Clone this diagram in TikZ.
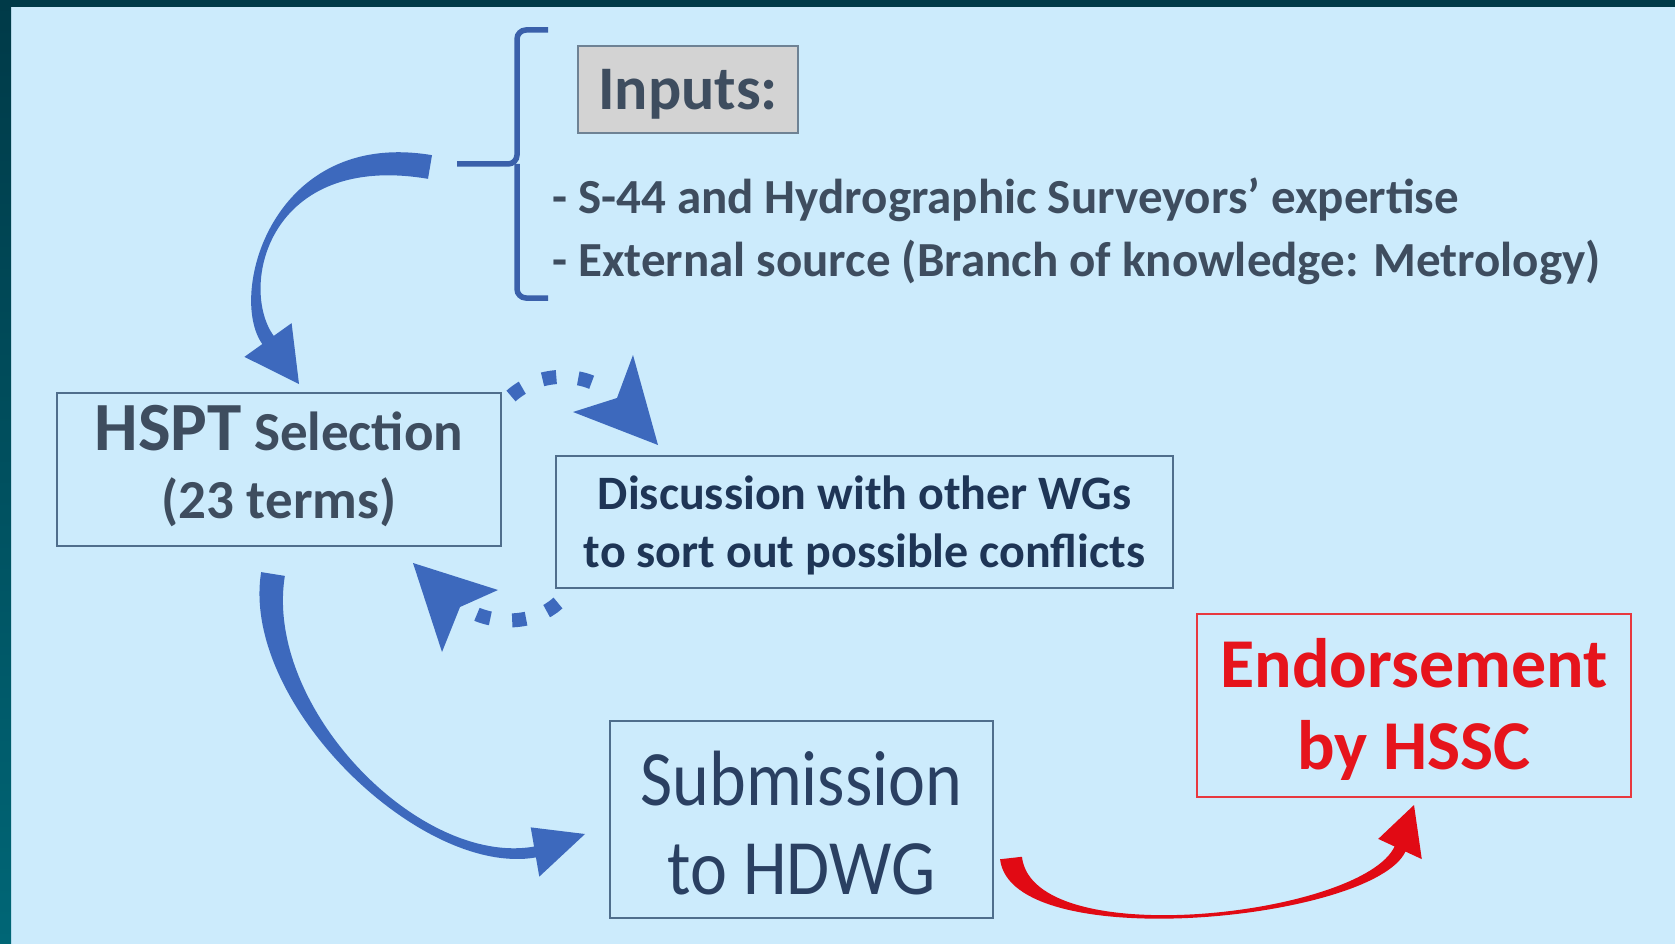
\documentclass[tikz,border=0pt]{standalone}
\usepackage{fontspec}
\setmainfont{Carlito}
\usetikzlibrary{calc}
\definecolor{bgblue}{HTML}{CCEBFC}
\definecolor{frametop}{HTML}{003A48}
\definecolor{framebot}{HTML}{006676}
\definecolor{textgrey}{HTML}{3E4D5F}
\definecolor{textnavy}{HTML}{1E3556}
\definecolor{textsub}{HTML}{2A4062}
\definecolor{boxborder}{HTML}{4F6E8C}
\definecolor{inputgray}{HTML}{D3D3D3}
\definecolor{inputborder}{HTML}{6E8294}
\definecolor{bracketblue}{HTML}{3A60AA}
\definecolor{arrowblue}{HTML}{3D69BD}
\definecolor{arrowred}{HTML}{E10A14}
\definecolor{redtext}{HTML}{E6141C}
\definecolor{redborder}{HTML}{E8383F}
% #1 colour, #2 tail, #3 control 1, #4 control 2, #5 head base, #6 tip,
% #7 half width at tail, #8 half width at head base, #9 half width of head
\newcommand{\taperarrow}[9]{%
  \fill[#1] ($(#2)!#7!90:(#3)$)
     .. controls ($(#3)!#7!-90:(#2)$) and ($(#4)!#8!90:(#5)$) .. ($(#5)!#8!-90:(#4)$)
     -- ($(#5)!#9!-90:(#4)$) -- (#6) -- ($(#5)!#9!90:(#4)$) -- ($(#5)!#8!90:(#4)$)
     .. controls ($(#4)!#8!-90:(#5)$) and ($(#3)!#7!90:(#2)$) .. ($(#2)!#7!-90:(#3)$) -- cycle;}
\begin{document}
\begin{tikzpicture}[x=1pt,y=-1pt,
  box/.style={draw=boxborder, line width=1.5pt, inner sep=0pt, align=center},
  inbox/.style={draw=inputborder, fill=inputgray, line width=1.5pt, inner sep=0pt,
    minimum width=220pt, minimum height=87pt, text=textgrey,
    font=\bfseries\fontsize{62}{70}\selectfont, text height=45pt, text depth=4pt},
  listtext/.style={inner sep=0pt, text=textgrey, font=\bfseries\fontsize{49}{55}\selectfont},
  dotline/.style={draw=arrowblue, line width=14pt, dash pattern=on 14pt off 22pt},
  bracket/.style={draw=bracketblue, line width=5.5pt, rounded corners=9pt}]
\useasboundingbox (0,0) rectangle (1675,944);
\fill[bgblue] (0,0) rectangle (1675,944);
\shade[top color=frametop, bottom color=framebot] (0,0) rectangle (11,944);
\fill[frametop] (0,0) rectangle (1675,7);

% inputs
\node[inbox] (inputs) at (688,89.5) {Inputs:};
\node[listtext, anchor=base west] (l1) at (552,214) {- S-44 and Hydrographic Surveyors’ expertise};
\node[listtext, anchor=base west] (l2) at (552,276) {- External source (Branch of knowledge: Metrology)};
\coordinate (brtick) at (457,164);
\draw[bracket] (548,30) -- (517,30) -- (517,164) -- (brtick);
\draw[bracket] (548,298) -- (517,298) -- (517,164);

% boxes
\node[box, minimum width=444pt, minimum height=153pt, text=textgrey,
  font=\bfseries\fontsize{55}{68}\selectfont, text height=110pt, text depth=13pt]
  (hspt) at (279,469.5) {{\fontsize{69}{68}\selectfont HSPT} Selection\\(23 terms)};
\node[box, minimum width=617pt, minimum height=132pt, text=textnavy,
  font=\bfseries\fontsize{48}{58}\selectfont, text height=100pt, text depth=10pt]
  (disc) at (864.5,522) {Discussion with other WGs\\to sort out possible conflicts};
\node[box, minimum width=383pt, minimum height=197pt, text=textsub,
  font=\fontsize{70}{89}\selectfont, text height=160pt, text depth=11pt]
  (sub) at (801.5,819.5) {\scalebox{1}[1.12]{Submission}\\\scalebox{1}[1.12]{to HDWG}};
\node[box, draw=redborder, minimum width=434pt, minimum height=183pt, text=redtext,
  font=\bfseries\fontsize{70}{82}\selectfont, text height=140pt, text depth=13pt]
  (endo) at (1414,705.5) {Endorsement\\by HSSC};

% tapered arrows
\coordinate (a1s) at (430,167);
\coordinate (a1c) at (270,140);
\coordinate (a1d) at (233,291);
\coordinate (a1e) at (268,340);
\coordinate (a1t) at (299,384);
\taperarrow{arrowblue}{a1s}{a1c}{a1d}{a1e}{a1t}{12pt}{7pt}{29pt}

\coordinate (a2s) at (273,574);
\coordinate (a2c) at (252,705);
\coordinate (a2d) at (420,872);
\coordinate (a2e) at (535,852);
\coordinate (a2t) at (585,834);
\taperarrow{arrowblue}{a2s}{a2c}{a2d}{a2e}{a2t}{12pt}{5.5pt}{25pt}

\coordinate (a3s) at (1011,858);
\coordinate (a3c) at (1022,955);
\coordinate (a3d) at (1368,918);
\coordinate (a3e) at (1400,849);
\coordinate (a3t) at (1414,805);
\taperarrow{arrowred}{a3s}{a3c}{a3d}{a3e}{a3t}{11pt}{6pt}{24pt}

% dotted arrows
\coordinate (d1s) at (511,396);
\coordinate (d1e) at (603,388);
\draw[dotline] (d1s) .. controls (538,372) and (578,372) .. (d1e);
\fill[arrowblue] (573,412) -- (658,445) -- (633,355) -- (617,398) -- cycle;

\coordinate (d2s) at (558,603);
\coordinate (d2e) at (466,609);
\draw[dotline] (d2s) .. controls (535,624) and (495,626) .. (d2e);
\fill[arrowblue] (498,590) -- (413,563) -- (442,652) -- (460,607) -- cycle;
\end{tikzpicture}
\end{document}
